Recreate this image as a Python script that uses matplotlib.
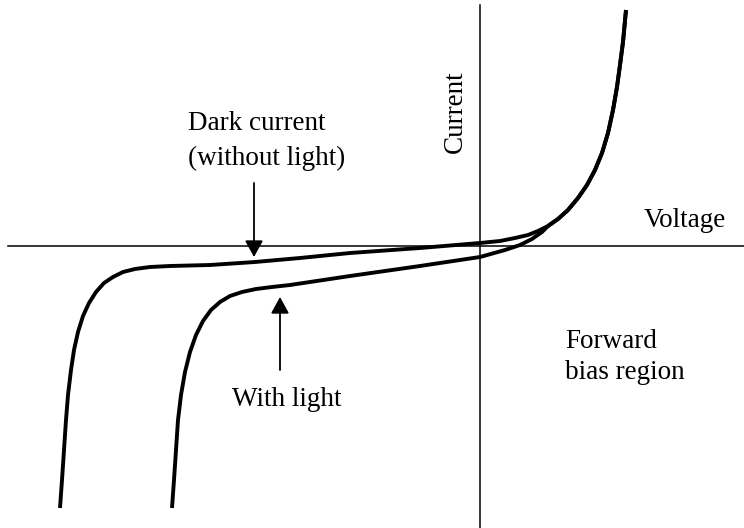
import matplotlib.pyplot as plt

plt.rcParams["font.family"] = ["Liberation Serif", "DejaVu Serif"]

# Curve points (voltage, current), arbitrary units
dark_v = [-4.20, -4.18, -4.16, -4.14, -4.12, -4.09, -4.06, -4.02, -3.97,
          -3.91, -3.84, -3.76, -3.67, -3.57, -3.45, -3.30, -3.10, -2.70,
          -2.25, -1.80, -1.30, -0.60, 0.00, 0.20, 0.35, 0.48, 0.58, 0.68]
dark_i = [-2.62, -2.34, -2.04, -1.74, -1.49, -1.24, -1.04, -0.86, -0.70,
          -0.57, -0.46, -0.37, -0.31, -0.26, -0.23, -0.21, -0.20, -0.19,
          -0.16, -0.12, -0.07, -0.02, 0.03, 0.05, 0.08, 0.11, 0.15, 0.20]

light_v = [-3.08, -3.06, -3.04, -3.02, -2.99, -2.95, -2.90, -2.84, -2.77,
           -2.69, -2.60, -2.50, -2.38, -2.24, -2.08, -1.90, -1.30, -0.60,
           0.00, 0.25, 0.40, 0.52, 0.62, 0.68]
light_i = [-2.62, -2.34, -2.04, -1.74, -1.49, -1.26, -1.06, -0.89, -0.75,
           -0.64, -0.56, -0.50, -0.46, -0.43, -0.41, -0.39, -0.30, -0.20,
           -0.11, -0.04, 0.01, 0.07, 0.14, 0.20]

# shared forward-bias branch
fwd_v = [0.68, 0.78, 0.88, 0.98, 1.07, 1.15, 1.22, 1.28, 1.33, 1.37, 1.40,
         1.43, 1.46]
fwd_i = [0.20, 0.27, 0.36, 0.48, 0.61, 0.76, 0.93, 1.13, 1.36, 1.59, 1.81,
         2.04, 2.36]

fig = plt.figure(figsize=(7.44, 5.28), dpi=100)
ax = fig.add_axes([0, 0, 1, 1])
ax.set_xlim(-4.80, 2.64)
ax.set_ylim(-2.82, 2.46)
ax.axis("off")

# axes through the origin
ax.plot([-4.72, 2.64], [0, 0], color="black", lw=1.1)
ax.plot([0, 0], [2.41, -2.82], color="black", lw=1.1)

ax.plot(dark_v + fwd_v[1:], dark_i + fwd_i[1:], color="black", lw=2.8,
        solid_joinstyle="round", solid_capstyle="butt")
ax.plot(light_v + fwd_v[1:], light_i + fwd_i[1:], color="black", lw=2.8,
        solid_joinstyle="round", solid_capstyle="butt")

arrow = dict(arrowstyle="-|>,head_length=1.0,head_width=0.55", color="black",
             lw=1.3, shrinkA=0, shrinkB=0)
ax.annotate("", xy=(-2.26, -0.11), xytext=(-2.26, 0.63), arrowprops=arrow)
ax.annotate("", xy=(-2.00, -0.51), xytext=(-2.00, -1.24), arrowprops=arrow)

fs = 19.5
ax.text(-2.92, 1.22, "Dark current", fontsize=fs, ha="left", va="center")
ax.text(-2.92, 0.88, "(without light)", fontsize=fs, ha="left", va="center")
ax.text(-1.93, -1.54, "With light", fontsize=fs, ha="center", va="center")
ax.text(-0.25, 1.34, "Current", fontsize=fs, rotation=90, ha="center",
        va="center")
ax.text(2.05, 0.25, "Voltage", fontsize=fs, ha="center", va="center")
ax.text(0.85, -0.96, "Forward", fontsize=fs, ha="left", va="center")
ax.text(0.85, -1.27, "bias region", fontsize=fs, ha="left", va="center")

fig.savefig("out.png", dpi=100)
